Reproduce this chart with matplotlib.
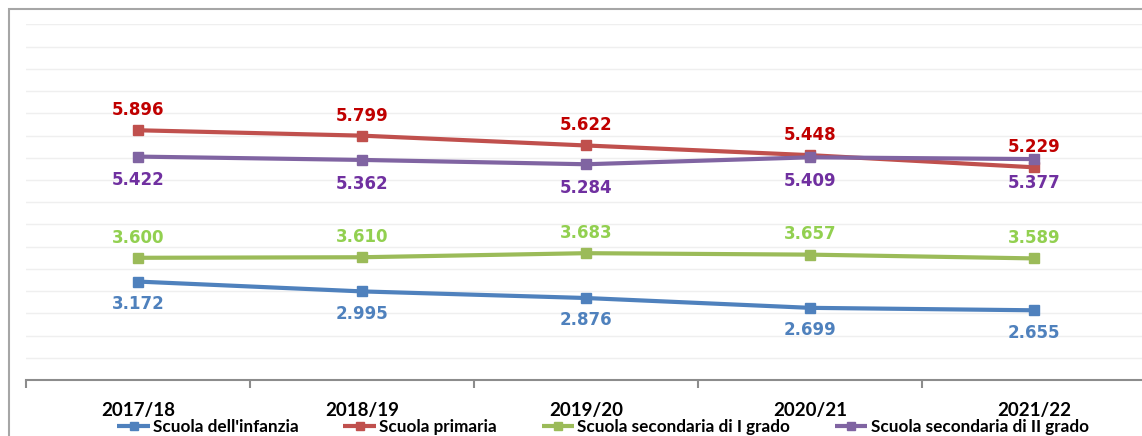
import matplotlib
matplotlib.use("Agg")
import matplotlib.pyplot as plt
from matplotlib.patches import Rectangle

categories = ["2017/18", "2018/19", "2019/20", "2020/21", "2021/22"]
infanzia = [3.172, 2.995, 2.876, 2.699, 2.655]
primaria = [5.896, 5.799, 5.622, 5.448, 5.229]
sec_I = [3.600, 3.610, 3.683, 3.657, 3.589]
sec_II = [5.422, 5.362, 5.284, 5.409, 5.377]
series_names = ["Scuola dell'infanzia", "Scuola primaria",
                "Scuola secondaria di I grado", "Scuola secondaria di II grado"]

line_colors = ["#4f81bd", "#c0504d", "#9bbb59", "#8064a2"]
label_colors = ["#4f81bd", "#c00000", "#92d050", "#7030a0"]
label_offsets = [-16, 14.5, 14.5, -17]  # points
series = [infanzia, primaria, sec_I, sec_II]

plt.rcParams['font.family'] = ['Lato', 'DejaVu Sans']

W, H = 1142, 436
fig = plt.figure(figsize=(W / 100, H / 100), dpi=100)
ax = fig.add_axes([26 / W, (H - 380) / H, 1120 / W, 355.5 / H])

x = list(range(len(categories)))
handles = []
for vals, lc, tc, off, name in zip(series, line_colors, label_colors, label_offsets, series_names):
    h, = ax.plot(x, vals, color=lc, lw=3, marker='s', markersize=6.5,
                 solid_capstyle='butt', label=name, zorder=3)
    handles.append(h)
    for xi, v in zip(x, vals):
        ax.annotate(f"{v:.3f}", (xi, v), xytext=(0, off), textcoords='offset points',
                    ha='center', va='center', fontsize=12, fontweight='bold', color=tc,
                    family='DejaVu Sans')

ax.set_xlim(-0.5, len(categories) - 0.5)
ax.set_ylim(1.4, 7.8)
ax.set_yticks([1.4 + 0.4 * i for i in range(17)])
ax.yaxis.grid(True, color='#efefef', lw=1)
ax.set_axisbelow(True)
ax.tick_params(axis='y', left=False, labelleft=False)

ax.set_xticks(x)
ax.set_xticklabels(categories, fontsize=13.5, fontweight='bold')
ax.tick_params(axis='x', which='major', length=0, pad=16)
ax.set_xticks([i - 0.5 for i in range(len(categories) + 1)], minor=True)
ax.tick_params(axis='x', which='minor', length=6, width=1.5, color='#8c8c8c', direction='out')

for s in ['top', 'right', 'left']:
    ax.spines[s].set_visible(False)
ax.spines['bottom'].set_color('#8c8c8c')
ax.spines['bottom'].set_linewidth(1.5)

# outer frame
fig.patches.append(Rectangle((8.5 / W, -0.1), 1.2, (H - 9.5) / H + 0.1,
                             transform=fig.transFigure, fill=False,
                             edgecolor='#a6a6a6', lw=1.5))

leg = fig.legend(handles=handles, loc='center', ncol=4,
                 bbox_to_anchor=(603 / W, (H - 427) / H), frameon=False,
                 prop={'weight': 'bold', 'size': 12.3}, handlelength=1.9,
                 handletextpad=0.2, columnspacing=2.6)
for lh in leg.legend_handles:
    lh.set_markersize(5.5)

fig.savefig("out.png", dpi=100)
